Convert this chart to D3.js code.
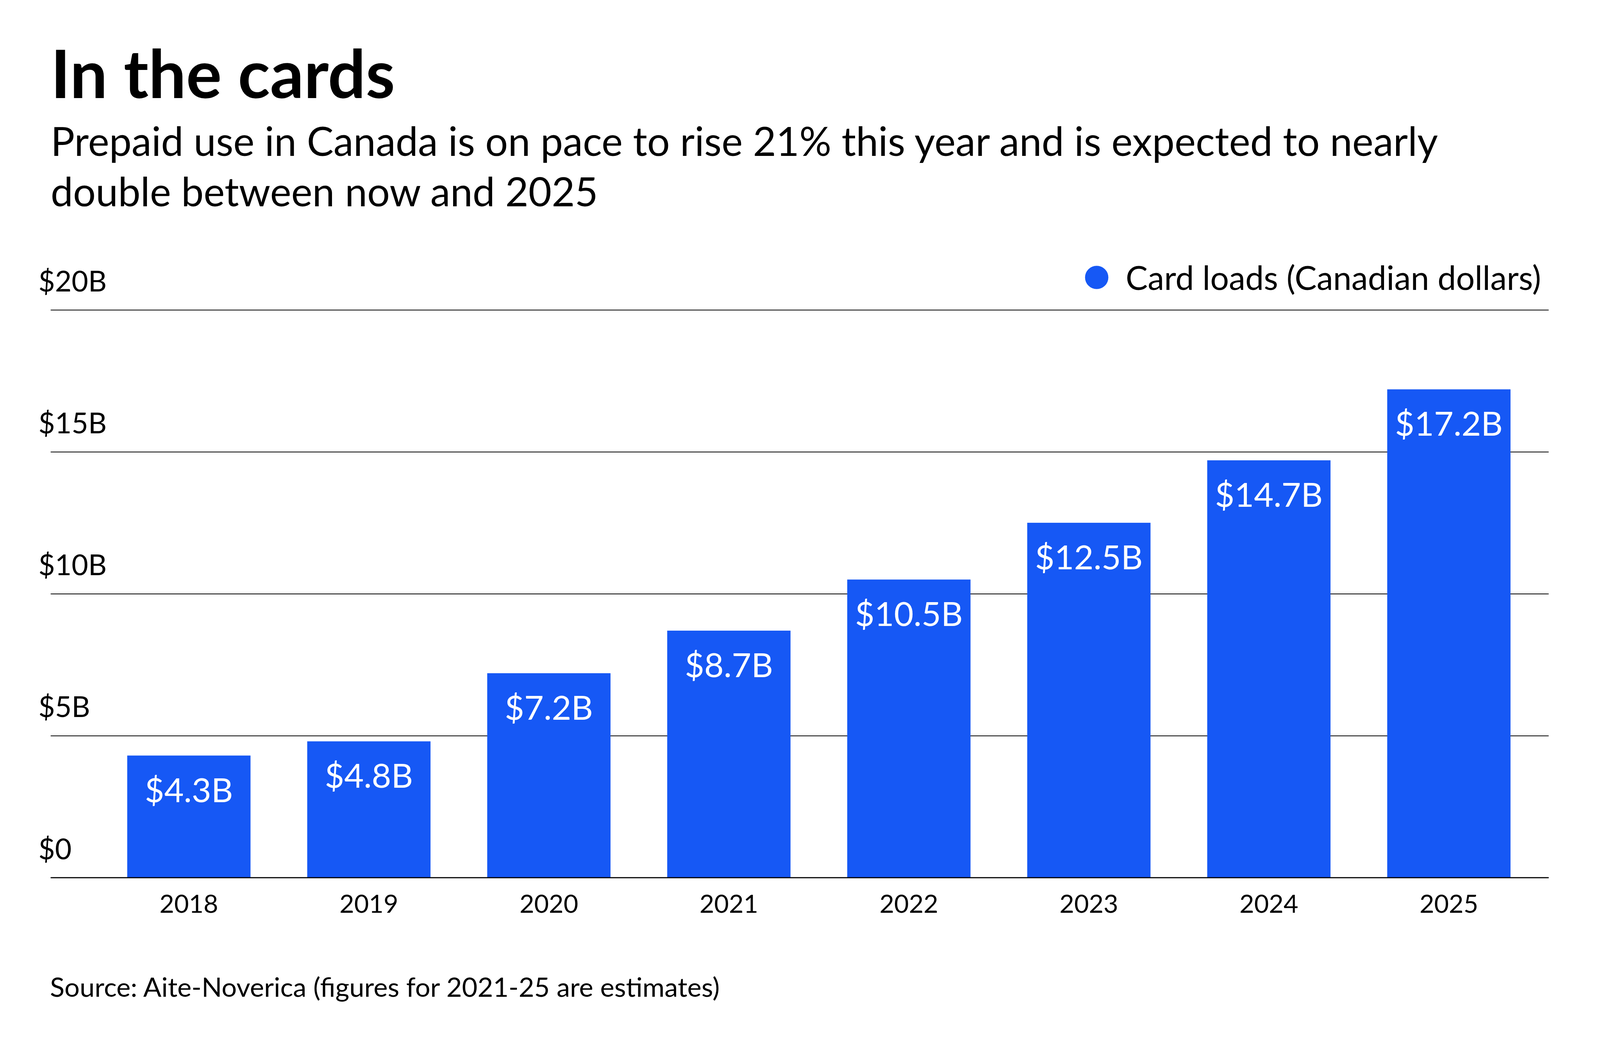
<!DOCTYPE html>
<html>
<head>
<meta charset="utf-8">
<script src="https://cdn.jsdelivr.net/npm/d3@7"></script>
<style>
  html, body { margin: 0; padding: 0; background: #fff; overflow: hidden; width: 100%; height: 100%; }
  svg { display: block; font-family: Lato, "Open Sans", sans-serif; }
</style>
</head>
<body>
<svg id="chart"></svg>
<script>
// ---- data ----
const years = ["2018", "2019", "2020", "2021", "2022", "2023", "2024", "2025"];
const cardLoads = [4.3, 4.8, 7.2, 8.7, 10.5, 12.5, 14.7, 17.2];
const yTicks = [0, 5, 10, 15, 20];
const yTickLabels = ["$0", "$5B", "$10B", "$15B", "$20B"];
const seriesName = "Card loads (Canadian dollars)";
const titleText = "In the cards";
const subtitleLines = [
  "Prepaid use in Canada is on pace to rise 21% this year and is expected to nearly",
  "double between now and 2025"
];
const sourceText = "Source: Aite-Noverica (figures for 2021-25 are estimates)";

// ---- layout (designed on a 4800x2700 frame, fitted to the actual viewport) ----
const W = window.innerWidth || 4800, H = window.innerHeight || 2700;
const sx = W / 4800, sy = H / 2700, fs = Math.min(sx, sy);
const px = v => v * sx, py = v => v * sy;
const gridLeft = px(152), gridRight = px(4646);
const barColor = "#1658f5";

const svg = d3.select("#chart").attr("width", W).attr("height", H);
svg.append("rect").attr("width", W).attr("height", H).attr("fill", "#fff");

const y = d3.scaleLinear().domain([0, 20]).range([py(2246), py(793)]);
const x = d3.scaleBand().domain(years).range([px(296.6), px(4616.6)])
  .paddingInner(0.315).paddingOuter(0.1575);

// title & subtitle
svg.append("text").attr("x", px(152)).attr("y", py(251))
  .attr("font-size", 200 * fs).attr("font-weight", 700).attr("fill", "#000")
  .text(titleText);
svg.append("g").selectAll("text").data(subtitleLines).join("text")
  .attr("x", px(152)).attr("y", (d, i) => py(399 + i * 129))
  .attr("font-size", 120 * fs).attr("fill", "#000")
  .text(d => d);

// y axis with gridlines
const yAxis = d3.axisRight(y)
  .tickValues(yTicks)
  .tickSize(gridRight - gridLeft)
  .tickFormat((d, i) => yTickLabels[i]);
const gy = svg.append("g").attr("transform", `translate(${gridLeft},0)`).call(yAxis);
gy.select(".domain").remove();
gy.selectAll(".tick line").attr("stroke", "#000").attr("stroke-width", 2.5 * fs);
gy.selectAll(".tick text")
  .attr("x", -px(37)).attr("dy", 0).attr("y", -py(48))
  .attr("text-anchor", "start")
  .attr("font-size", 86 * fs).attr("font-family", "Lato").attr("fill", "#000");

// bars
svg.append("g").selectAll("rect").data(cardLoads).join("rect")
  .attr("x", (d, i) => x(years[i]))
  .attr("width", x.bandwidth())
  .attr("y", d => y(d))
  .attr("height", d => y(0) - y(d))
  .attr("fill", barColor);

// value labels
svg.append("g").selectAll("text").data(cardLoads).join("text")
  .attr("x", (d, i) => x(years[i]) + x.bandwidth() / 2)
  .attr("y", d => y(d) + py(119))
  .attr("text-anchor", "middle")
  .attr("font-size", 101 * fs).attr("fill", "#fff")
  .text(d => "$" + d.toFixed(1) + "B");

// baseline on top of bars
svg.append("line")
  .attr("x1", gridLeft).attr("x2", gridRight)
  .attr("y1", y(0)).attr("y2", y(0))
  .attr("stroke", "#000").attr("stroke-width", 3 * fs);

// x axis labels
const xAxis = d3.axisBottom(x).tickSize(0);
const gx = svg.append("g").attr("transform", `translate(0,${y(0)})`).call(xAxis);
gx.select(".domain").remove();
gx.selectAll(".tick text")
  .attr("y", py(90)).attr("dy", 0)
  .attr("font-size", 76 * fs).attr("font-family", "Lato").attr("fill", "#000");

// legend
const legendRight = px(4623);
const lt = svg.append("text").attr("x", legendRight).attr("y", py(742))
  .attr("text-anchor", "end").attr("font-size", 99 * fs).attr("fill", "#000")
  .text(seriesName);
const ltw = lt.node().getComputedTextLength();
svg.append("circle")
  .attr("cx", legendRight - ltw - 87 * fs).attr("cy", py(710)).attr("r", 35 * fs)
  .attr("fill", barColor);

// source
svg.append("text").attr("x", px(150)).attr("y", py(2551))
  .attr("font-size", 80.5 * fs).attr("fill", "#000")
  .text(sourceText);
</script>
</body>
</html>
